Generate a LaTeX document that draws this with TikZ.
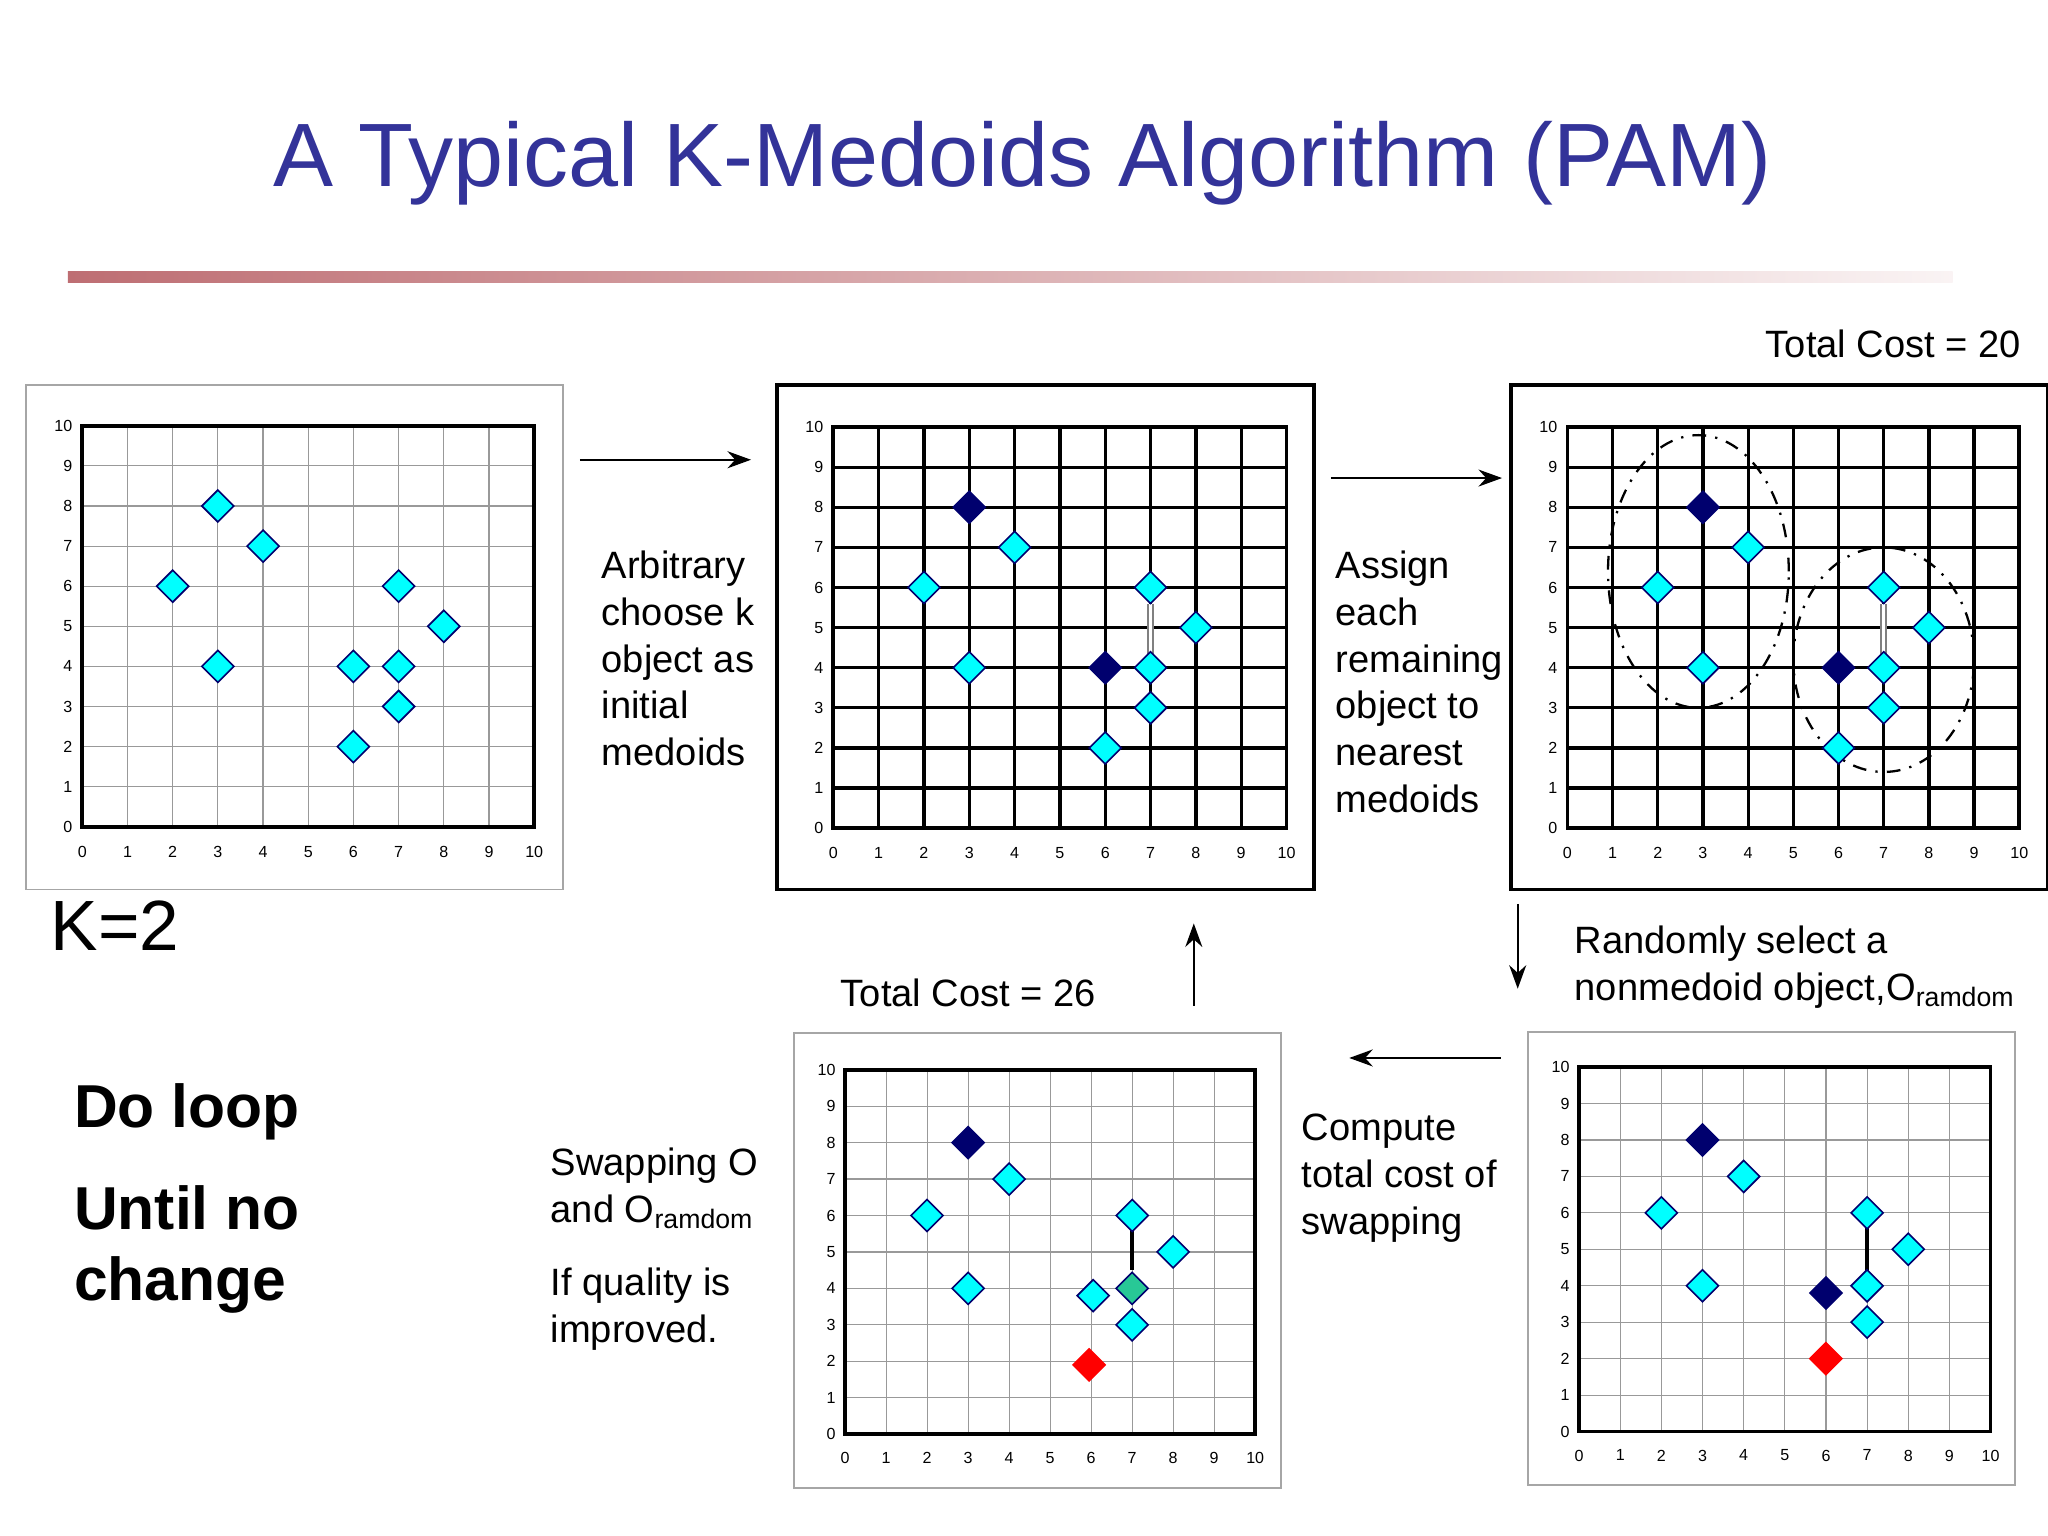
\documentclass[tikz,border=0pt]{standalone}
\usepackage{fontspec}
\setmainfont{Liberation Sans}
\usetikzlibrary{shapes.geometric,arrows.meta,calc}
\definecolor{titleblue}{RGB}{51,51,153}
\definecolor{cyanpt}{RGB}{0,255,255}
\definecolor{navypt}{RGB}{0,0,110}
\definecolor{greenpt}{RGB}{40,200,150}
\definecolor{rosy}{RGB}{190,110,115}
\tikzset{
  pt/.style={diamond,draw=navypt,line width=0.35pt,fill=cyanpt,minimum size=2.5mm,inner sep=0pt},
  medoid/.style={pt,fill=navypt},
  redpt/.style={pt,fill=red,draw=red},
  greenp/.style={pt,fill=greenpt},
  frame/.style={draw=gray!70,line width=0.4pt},
  bframe/.style={draw=black,line width=0.8pt},
  lightgrid/.style={draw=gray!80,line width=0.25pt},
  heavygrid/.style={draw=black,line width=0.7pt},
  tick/.style={font=\fontsize{3.5}{4}\selectfont,inner sep=1pt},
  txt/.style={font=\fontsize{8.3}{10.2}\selectfont,align=left,anchor=north west,inner sep=0pt},
  arr/.style={-{Stealth[length=1.8mm,width=1.3mm]},line width=0.5pt}
}
% \kplot{x0}{y0}{x1}{y1}{gridstyle}{content}
\newcommand{\kplot}[6]{%
\begin{scope}[shift={(#1,#4)},xscale={(#3-#1)/10},yscale={-(#4-#2)/10}]
  \foreach \i in {1,...,9}{\draw[#5] (\i,0) -- (\i,10); \draw[#5] (0,\i) -- (10,\i);}
  \draw[line width=0.8pt] (0,0) rectangle (10,10);
  \foreach \i in {0,...,10}{\node[tick,anchor=east] at (-0.1,\i) {\i}; \node[tick,anchor=north] at (\i,-0.35) {\i};}
  #6
\end{scope}}
\begin{document}
\begin{tikzpicture}[x=0.1mm,y=-0.1mm]
\useasboundingbox (0,0) rectangle (1568,1176);
\fill[white] (0,0) rectangle (1568,1176);
\node[text=titleblue,font=\fontsize{19.6}{23}\selectfont] (title) at (783,125) {A Typical K-Medoids Algorithm (PAM)};
\shade[left color=rosy,right color=rosy!8] (52,208) rectangle (1495,216);

% panels
\draw[frame] (20,295) rectangle (431,681);
\kplot{63}{326}{409}{633}{lightgrid}{
 \node[pt] at (3,8){}; \node[pt] at (4,7){}; \node[pt] at (2,6){}; \node[pt] at (3,4){};
 \node[pt] at (7,6){}; \node[pt] at (8,5){}; \node[pt] at (6,4){}; \node[pt] at (7,4){};
 \node[pt] at (7,3){}; \node[pt] at (6,2){};}
\draw[bframe] (595,295) rectangle (1006,681);
\kplot{638}{327}{985}{634}{heavygrid}{
 \draw[gray,double=white,line width=0.4pt] (7,5.6) -- (7,4.3);
 \node[medoid] at (3,8){}; \node[pt] at (4,7){}; \node[pt] at (2,6){}; \node[pt] at (3,4){};
 \node[pt] at (7,6){}; \node[pt] at (8,5){}; \node[medoid] at (6,4){}; \node[pt] at (7,4){};
 \node[pt] at (7,3){}; \node[pt] at (6,2){};}
\draw[bframe] (1157,295) rectangle (1568,681);
\kplot{1200}{327}{1546}{634}{heavygrid}{
 \draw[line width=0.5pt,dash dot] (2.9,6.4) ellipse [x radius=2,y radius=3.4];
 \draw[line width=0.5pt,dash dot] (7,4.2) ellipse [x radius=2,y radius=2.8];
 \draw[gray,double=white,line width=0.4pt] (7,5.6) -- (7,4.3);
 \node[medoid] at (3,8){}; \node[pt] at (4,7){}; \node[pt] at (2,6){}; \node[pt] at (3,4){};
 \node[pt] at (7,6){}; \node[pt] at (8,5){}; \node[medoid] at (6,4){}; \node[pt] at (7,4){};
 \node[pt] at (7,3){}; \node[pt] at (6,2){};}
\draw[frame] (1170,790) rectangle (1543,1137);
\kplot{1209}{817}{1524}{1096}{lightgrid}{
 \draw[line width=0.8pt] (7,5.6) -- (7,4.4);
 \node[medoid] at (3,8){}; \node[pt] at (4,7){}; \node[pt] at (2,6){}; \node[pt] at (3,4){};
 \node[pt] at (7,6){}; \node[pt] at (8,5){}; \node[medoid] at (6,3.8){}; \node[pt] at (7,4){};
 \node[pt] at (7,3){}; \node[redpt] at (6,2){};}
\draw[frame] (608,791) rectangle (981,1139);
\kplot{647}{819}{961}{1098}{lightgrid}{
 \draw[line width=0.8pt] (7,5.6) -- (7,4.5);
 \node[medoid] at (3,8){}; \node[pt] at (4,7){}; \node[pt] at (2,6){}; \node[pt] at (3,4){};
 \node[pt] at (7,6){}; \node[pt] at (8,5){}; \node[pt] at (6.05,3.8){}; \node[greenp] at (7,4){};
 \node[pt] at (7,3){}; \node[redpt] at (5.95,1.9){};}

% arrows
\coordinate (a1s) at (444,352); \coordinate (a1e) at (575,352);
\coordinate (a2s) at (1019,366); \coordinate (a2e) at (1150,366);
\coordinate (a3s) at (1162,692); \coordinate (a3e) at (1162,757);
\coordinate (a4s) at (1149,810); \coordinate (a4e) at (1033,810);
\coordinate (a5s) at (914,770); \coordinate (a5e) at (914,707);
\draw[arr] (a1s) -- (a1e); \draw[arr] (a2s) -- (a2e); \draw[arr] (a3s) -- (a3e);
\draw[arr] (a4s) -- (a4e); \draw[arr] (a5s) -- (a5e);

% texts
\node[txt] (t1) at (460,421) {Arbitrary\\choose k\\object as\\initial\\medoids};
\node[txt] (t2) at (1022,421) {Assign\\each\\remaining\\object to\\nearest\\medoids};
\node[txt,anchor=east] (tc20) at (1548,263) {Total Cost = 20};
\node[txt,anchor=west] (tc26) at (643,760) {Total Cost = 26};
\node[txt] (t3) at (1205,708) {Randomly select a\\nonmedoid object,O\textsubscript{ramdom}};
\node[txt] (t4) at (996,852) {Compute\\total cost of\\swapping};
\node[txt] (t5) at (421,878) {Swapping O\\and O\textsubscript{ramdom}};
\node[txt] (t6) at (421,970) {If quality is\\improved.};
\node[anchor=west,font=\fontsize{15.5}{18}\selectfont,inner sep=0pt] (k2) at (38,709) {K=2};
\node[txt,font=\bfseries\fontsize{13.2}{15.5}\selectfont] (t7) at (56,829) {Do loop};
\node[txt,font=\bfseries\fontsize{13.2}{15.5}\selectfont] (t8) at (56,907) {Until no\\change};
\end{tikzpicture}
\end{document}
